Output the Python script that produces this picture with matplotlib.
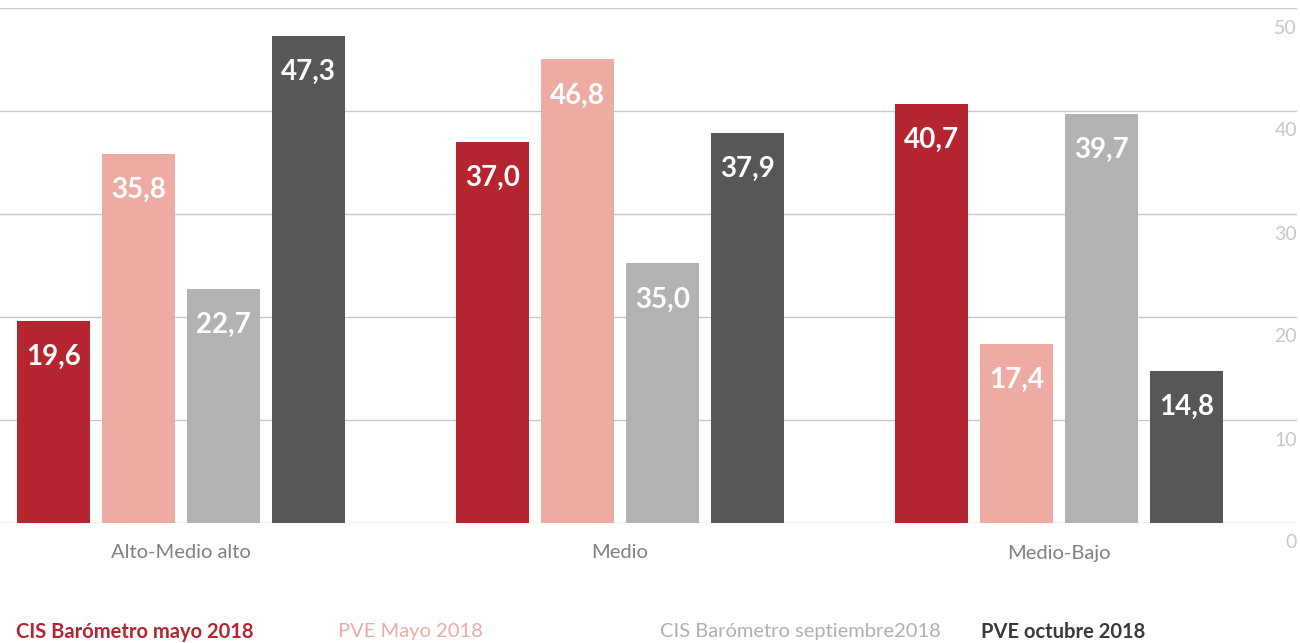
import numpy as np
import matplotlib.pyplot as plt

plt.rcParams['font.family'] = ['Lato', 'DejaVu Sans']

# Datos
categorias = ['Alto-Medio alto', 'Medio', 'Medio-Bajo']
series = ['CIS Barómetro mayo 2018', 'PVE Mayo 2018',
          'CIS Barómetro septiembre2018', 'PVE octubre 2018']
# alturas de las barras tal como aparecen dibujadas
cis_mayo = [19.6, 37.0, 40.7]
pve_mayo = [35.8, 45.0, 17.4]
cis_sept = [22.7, 25.2, 39.7]
pve_oct = [47.3, 37.9, 14.8]
# etiquetas tal como aparecen escritas
etiquetas = [['19,6', '37,0', '40,7'],
             ['35,8', '46,8', '17,4'],
             ['22,7', '35,0', '39,7'],
             ['47,3', '37,9', '14,8']]

colores = ['#B5252F', '#EDABA3', '#B2B2B2', '#575755']
colores_leyenda = ['#B5252F', '#EDABA3', '#B0B0B0', '#3A3A3A']
pesos_leyenda = ['bold', 'normal', 'normal', 'bold']

fig = plt.figure(figsize=(13, 6.43), dpi=100)
ax = fig.add_axes([0, 1 - 523 / 643, 1297 / 1300, (523 - 8) / 643])

x = np.arange(len(categorias))
paso = 85 / 439
ancho = 73 / 439
valores = [cis_mayo, pve_mayo, cis_sept, pve_oct]

for i, (vals, col) in enumerate(zip(valores, colores)):
    pos = x + (i - 1.5) * paso
    ax.bar(pos, vals, width=ancho, color=col, zorder=2)
    for p, v, t in zip(pos, vals, etiquetas[i]):
        ax.annotate(t, (p, v), xytext=(0, -36), textcoords='offset pixels',
                    ha='center', va='center', color='white',
                    fontsize=20, fontweight='bold', zorder=3)

ax.set_xlim(-181 / 439, 1116 / 439)
ax.set_ylim(0, 50)

# rejilla horizontal
for yv in range(0, 51, 10):
    ax.axhline(yv, color='#C8C8C8', lw=1, zorder=1)
    ax.annotate(str(yv), (1, yv), xycoords=('axes fraction', 'data'),
                xytext=(0, -20), textcoords='offset pixels',
                ha='right', va='center', color='#C8C8C8', fontsize=14)

for s in ax.spines.values():
    s.set_visible(False)
ax.set_yticks([])
ax.set_xticks([])

for xi, cat in zip(x, categorias):
    ax.annotate(cat, (xi, 0), xytext=(0, -30), textcoords='offset pixels',
                ha='center', va='center', color='#808080', fontsize=14.5)

# leyenda en texto
xs_leyenda = [16, 338, 660, 981]
for xl, s, c, w in zip(xs_leyenda, series, colores_leyenda, pesos_leyenda):
    fig.text(xl / 1300, 1 - 632 / 643, s, color=c, fontweight=w,
             fontsize=14.5, ha='left', va='center')

fig.savefig('out.png', dpi=100)
